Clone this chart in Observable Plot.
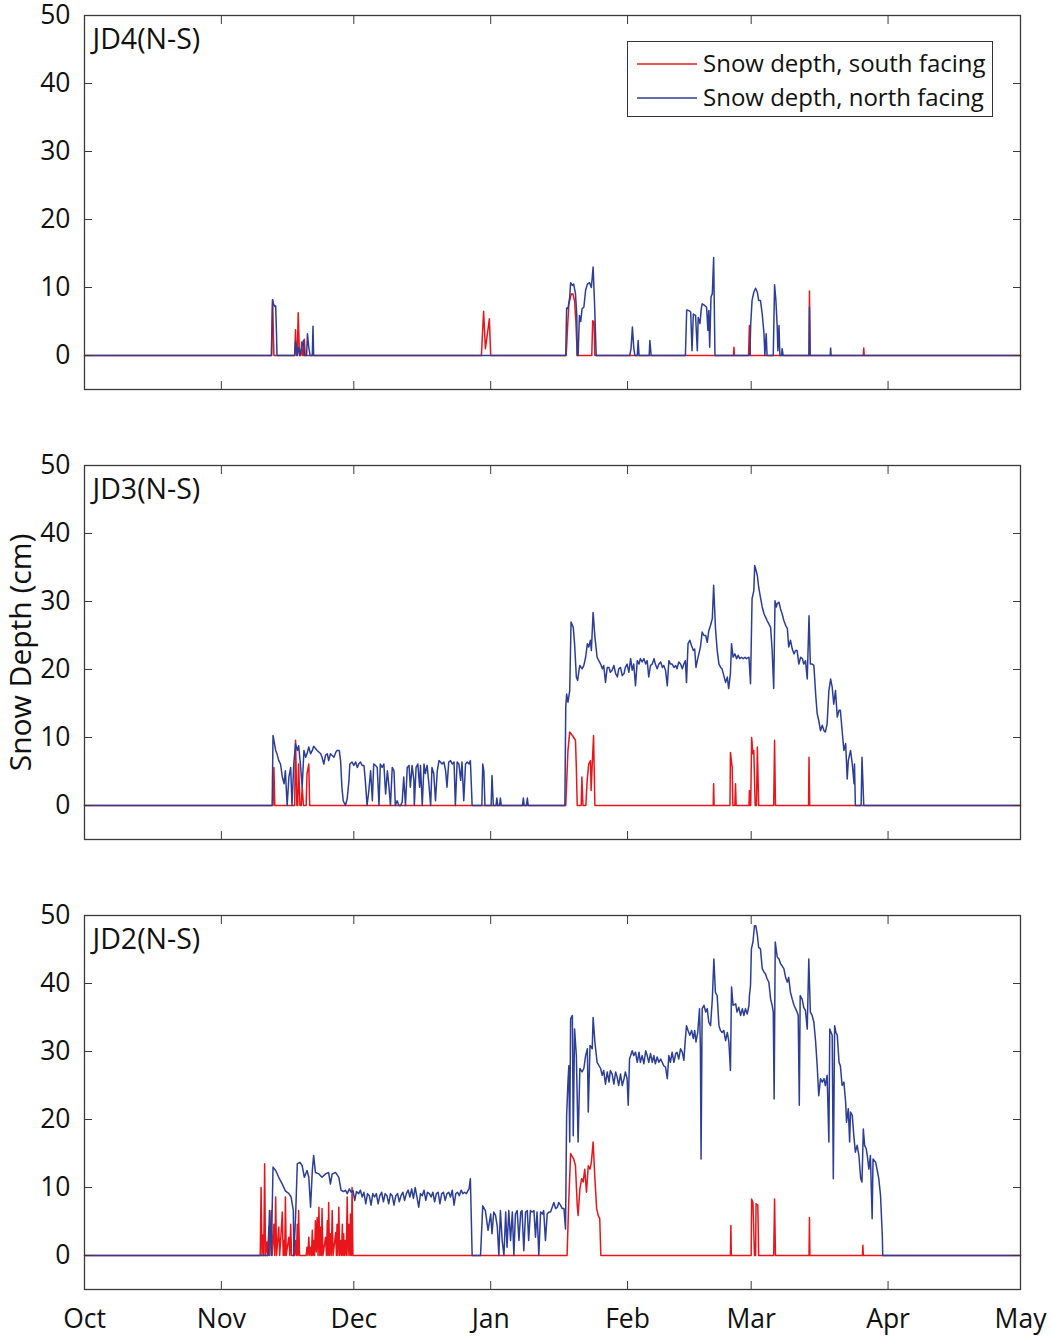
<!DOCTYPE html>
<html><head><meta charset="utf-8">
<script src="https://cdn.jsdelivr.net/npm/d3@7"></script>
<script src="https://cdn.jsdelivr.net/npm/@observablehq/plot@0.6"></script>
<style>
body{margin:0;background:#fff;font-family:"Open Sans",sans-serif;}
#wrap{position:relative;width:1052px;height:1339px;background:#fff;}
.panel{position:absolute;left:0;}
#legend{position:absolute;left:627px;top:41px;width:364px;height:74px;border:1.3px solid #333;background:#fff;font-size:24px;color:#111;}
#legend .row{position:absolute;left:0;height:30px;width:100%;}
#legend svg{position:absolute;left:9px;top:14px;}
#legend span{position:absolute;left:75px;top:-2px;white-space:nowrap;line-height:34px;}
</style></head><body>
<div id="wrap"></div>
<script>
// ---- data (day = days since 1 Oct, depth in cm) ----
const months = ["Oct","Nov","Dec","Jan","Feb","Mar","Apr","May"];
const monthStarts = ["2014-10-01","2014-11-01","2014-12-01","2015-01-01","2015-02-01","2015-03-01","2015-04-01","2015-05-01"];
const yTicks = [0,10,20,30,40,50];
const panelNames = ["JD4(N-S)","JD3(N-S)","JD2(N-S)"];
const seriesNames = ["Snow depth, south facing","Snow depth, north facing"];
const seriesColors = ["#e8161b","#2c3e98"];

const jd4South = [[0,0],[42.3,0],[42.6,8.2],[42.9,0],[47.6,0],[47.8,3.8],[48.0,0],[48.2,0],[48.4,6.3],[48.7,0],[49.0,0],[49.2,2.0],[49.4,0],[49.6,0],[49.8,2.4],[50.0,0],[89.9,0],[90.1,2.7],[90.4,6.5],[90.8,1.0],[91.3,3.4],[91.7,5.4],[92.0,0],[109.1,0],[109.4,4.0],[109.7,7.5],[110.2,9.0],[110.6,9.1],[111.0,8.0],[111.3,5.0],[111.6,0],[114.9,0],[115.1,5.1],[115.4,5.0],[115.6,0],[147.0,0],[147.1,1.2],[147.2,0],[150.4,0],[150.6,4.4],[150.8,0],[164.1,0],[164.2,9.5],[164.35,0],[176.4,0],[176.5,1.1],[176.6,0],[212,0]];

const jd4North = [[0,0],[42.4,0],[42.6,8.2],[42.8,7.6],[43.1,7.2],[43.3,7.3],[43.5,3],[43.6,0],[47.6,0],[47.8,2.1],[48.0,1.2],[48.2,0],[48.5,1.2],[48.8,0],[49.2,1.2],[49.6,2.2],[49.8,0],[50.3,0],[50.5,3.2],[50.8,1.2],[51.1,0],[51.6,0],[51.75,4.3],[51.9,0],[109.0,0],[109.2,7.0],[109.5,6.9],[109.9,8.6],[110.1,10.7],[110.5,10.3],[110.8,10.5],[111.2,9.1],[111.5,6],[111.6,0],[111.8,0],[112.1,5.9],[112.4,5.0],[112.7,6.9],[113.1,7.1],[113.5,9.6],[113.9,10.5],[114.4,10.7],[114.8,10.0],[115.2,13.0],[115.5,8.1],[115.9,0],[123.5,0],[123.8,1.1],[124.1,4.2],[124.4,1.2],[124.65,0],[125.2,0],[125.4,2.2],[125.6,0],[127.9,0],[128.05,2.2],[128.35,0],[136.1,0],[136.4,6.7],[136.9,6.6],[137.3,6.4],[137.6,0.7],[137.9,6.1],[138.4,5.9],[138.8,0.7],[139.0,5.6],[139.4,4.7],[139.7,6.9],[139.9,7.6],[140.4,7.4],[140.9,7.1],[141.2,3.7],[141.4,6.6],[141.6,1.2],[141.9,8.6],[142.2,9.1],[142.5,14.4],[142.8,0],[150.7,0],[150.9,4.7],[151.2,8.1],[151.6,9.3],[152.0,9.9],[152.4,9.3],[152.7,8.1],[153.1,8.1],[153.5,6.1],[153.9,3.2],[154.1,0],[154.4,3.2],[154.6,0],[156.0,0],[156.3,10.4],[156.6,8.1],[156.9,4.2],[157.05,0.7],[157.3,4.4],[157.5,0],[157.9,0],[158.0,1.0],[158.25,0],[164.1,0],[164.2,7.1],[164.35,0],[168.9,0],[169.0,1.1],[169.1,0],[212,0]];

const jd3South = [[0,0],[42.7,0],[42.9,5.6],[43.1,0],[47.6,0],[47.8,9.6],[48.1,0],[48.3,0],[48.5,6.1],[48.8,0],[49.1,0],[49.3,2.7],[49.6,0],[50.2,0],[50.4,4.7],[50.8,6.1],[51.0,0],[109.0,0],[109.5,8.1],[109.9,10.8],[110.5,10.3],[110.8,10.0],[111.2,9.6],[111.4,5.6],[111.6,0],[112.5,0],[112.65,4.2],[112.9,0],[113.55,0],[113.85,3.7],[114.2,6.1],[114.6,6.6],[114.75,2.2],[115.0,6.1],[115.3,10.3],[115.6,0],[142.4,0],[142.5,3.2],[142.6,0],[146.2,0],[146.3,7.8],[146.7,5.6],[146.85,0],[147.3,0],[147.45,3.2],[147.6,0],[150.5,0],[150.6,2.2],[150.7,0],[150.9,0],[151.1,10.0],[151.4,7.6],[151.6,8.1],[151.9,0],[152.2,0],[152.4,8.6],[152.7,0],[156.1,0],[156.3,9.6],[156.5,0],[164.0,0],[164.1,7.1],[164.25,0],[212,0]];

const jd3North = [[0,0],[42.5,0],[42.7,10.3],[43.3,8.1],[43.6,7.6],[44.0,6.6],[44.4,6.1],[44.8,4.2],[45.2,3.2],[45.5,5.1],[45.9,0],[46.3,4.2],[46.7,5.6],[47.0,0],[47.4,6.1],[47.8,9.1],[48.2,8.1],[48.5,8.8],[48.9,6.1],[49.3,2.7],[49.7,8.1],[50.1,7.1],[50.4,7.6],[50.8,8.6],[51.2,7.6],[51.6,8.1],[51.9,8.7],[52.7,8.1],[53.5,7.6],[53.8,7.1],[54.2,6.1],[54.6,7.4],[55.0,7.6],[55.3,6.6],[55.7,7.6],[56.5,7.1],[56.9,7.8],[57.2,8.1],[57.7,8.1],[58.0,6.6],[58.3,2.7],[58.6,0.7],[59.1,0],[59.5,1.0],[59.9,3.7],[60.1,6.1],[60.6,6.4],[61.0,5.9],[61.4,6.4],[61.8,5.6],[62.1,6.1],[62.5,6.4],[62.9,5.9],[63.3,5.9],[63.6,3.7],[64.0,0],[64.4,2.2],[64.8,5.1],[65.2,0.7],[65.5,6.1],[65.9,5.9],[66.3,5.6],[66.7,0],[67.0,6.1],[67.4,5.6],[67.8,6.1],[68.2,1.7],[68.6,5.1],[68.9,3.2],[69.3,0],[69.7,5.6],[70.1,5.1],[70.4,0],[70.8,0.7],[71.2,0],[71.6,0],[71.95,0.5],[72.3,4.2],[72.7,0],[73.1,5.6],[73.5,5.9],[73.8,2.7],[74.2,5.9],[74.6,3.7],[74.7,0],[75.1,5.6],[75.5,6.1],[75.9,2.7],[76.1,5.9],[76.5,0],[76.9,6.1],[77.2,4.7],[77.6,5.9],[78.0,3.2],[78.4,0],[78.7,5.6],[79.1,4.7],[79.5,0.7],[79.9,5.1],[80.3,6.6],[80.6,6.4],[81.0,6.1],[81.4,6.4],[81.8,5.1],[82.1,2.7],[82.5,6.4],[82.9,6.6],[83.3,6.1],[83.7,6.4],[84.0,0],[84.4,6.4],[84.8,6.1],[85.2,3.7],[85.5,6.4],[85.9,0.7],[86.3,6.1],[86.7,6.4],[87.1,6.1],[87.4,6.6],[87.8,0],[90.0,0],[90.2,6.1],[90.45,5.1],[90.7,0],[92.1,0],[92.3,4.4],[92.6,0],[93.2,0],[93.4,1.1],[93.6,0],[94.0,0],[94.2,1.1],[94.4,0],[99.2,0],[99.4,1.1],[99.6,0],[100.1,0],[100.3,1.1],[100.5,0],[108.8,0],[109.0,14.5],[109.2,16.4],[109.5,15.2],[109.9,16.9],[110.2,27.0],[110.5,26.5],[110.7,26.2],[111.0,23.8],[111.4,18.9],[111.7,18.4],[112.0,19.9],[112.2,20.6],[112.7,20.1],[113.1,20.6],[113.5,21.8],[113.9,23.8],[114.2,23.3],[114.6,24.3],[114.8,22.8],[115.2,28.4],[115.6,24.8],[116.1,21.8],[116.9,20.8],[117.3,20.1],[117.6,20.6],[118.0,18.1],[118.4,20.3],[118.8,20.3],[119.1,19.6],[119.5,19.9],[119.9,20.6],[120.3,19.4],[120.7,18.9],[121.0,20.1],[121.4,20.3],[121.8,19.1],[122.2,19.4],[122.5,20.3],[122.9,20.8],[123.3,19.6],[123.7,21.6],[124.05,19.9],[124.4,20.8],[124.8,17.6],[125.2,21.3],[125.6,20.8],[125.9,21.6],[126.3,21.1],[126.7,21.6],[127.1,20.8],[127.45,21.3],[127.8,18.9],[128.2,20.6],[128.6,20.8],[129.0,21.6],[129.3,20.8],[129.7,20.1],[130.1,20.8],[130.5,21.1],[130.9,20.3],[131.2,20.6],[131.6,19.9],[132.0,17.6],[132.35,21.3],[132.7,20.8],[133.1,20.8],[133.5,20.3],[133.9,20.6],[134.2,20.1],[134.6,21.1],[135.0,20.8],[135.4,20.1],[135.75,20.8],[136.1,21.3],[136.35,18.1],[136.7,23.8],[137.1,24.3],[137.5,23.5],[137.9,22.8],[138.2,23.0],[138.5,20.3],[138.8,21.3],[139.15,22.3],[139.5,23.3],[139.9,25.5],[140.3,25.0],[140.7,25.0],[141.05,24.0],[141.4,25.7],[141.8,26.5],[142.2,27.5],[142.5,32.4],[142.9,26.2],[143.3,22.8],[143.7,20.8],[144.1,20.3],[144.4,20.1],[144.8,19.1],[145.2,18.1],[145.6,18.9],[145.9,17.2],[146.3,19.4],[146.55,23.8],[146.9,21.8],[147.3,22.3],[147.7,21.6],[148.05,22.1],[148.4,21.6],[148.8,21.8],[149.2,21.6],[149.6,21.8],[149.9,21.6],[150.5,21.8],[150.85,17.9],[151.2,30.4],[151.6,31.6],[151.8,35.3],[152.1,34.6],[152.4,33.8],[152.7,32.1],[153.1,30.6],[153.5,29.2],[153.9,28.2],[154.25,27.7],[154.6,27.2],[155.0,26.7],[155.4,26.2],[155.75,22.8],[156.1,17.2],[156.4,30.1],[156.7,29.2],[156.9,29.7],[157.3,29.9],[157.65,28.9],[158.0,28.2],[158.4,27.2],[158.8,26.5],[159.2,26.0],[159.5,23.3],[159.9,24.3],[160.3,23.0],[160.7,22.3],[161.05,22.8],[161.4,22.8],[161.8,20.8],[162.2,21.8],[162.6,21.6],[162.9,20.8],[163.3,21.3],[163.7,18.6],[164.1,27.9],[164.4,20.8],[164.8,20.8],[165.2,20.6],[165.6,16.4],[165.95,13.5],[166.3,12.5],[166.7,11.0],[167.1,11.8],[167.5,11.0],[167.8,10.8],[168.2,12.0],[168.6,16.9],[169.0,18.6],[169.35,17.4],[169.7,14.9],[170.1,16.9],[170.5,13.0],[170.9,14.0],[171.2,14.0],[171.6,11.0],[172.0,8.1],[172.4,9.1],[172.75,3.9],[173.0,6.6],[173.5,8.1],[173.9,6.1],[174.3,3.2],[174.4,6.1],[174.6,0],[175.9,0],[176.1,7.1],[176.5,0],[212,0]];

const jd2South = [[0,0],[39.8,0],[40.0,10.0],[40.2,0],[40.4,3.0],[40.6,0],[40.8,13.5],[41.0,0],[41.3,2.0],[41.5,0],[41.75,4.2],[41.9,0],[42.1,3.0],[42.3,6.6],[42.5,0],[42.7,2.0],[42.9,4.6],[43.1,0],[43.3,8.6],[43.5,0],[43.8,2.5],[44.0,4.2],[44.2,0],[44.5,3.0],[44.8,6.4],[45.0,0],[45.2,2.2],[45.35,0],[45.5,8.6],[45.7,0],[46.0,1.5],[46.3,2.7],[46.5,0],[46.7,4.6],[46.9,0],[47.6,0],[47.8,2.2],[48.0,0],[48.2,4.6],[48.35,0],[48.5,6.6],[48.7,0],[50.2,0],[50.4,1.2],[50.6,0],[50.8,2.7],[51.0,0],[51.2,1.2],[51.4,0],[51.6,3.7],[51.75,0],[51.9,2.2],[52.1,0],[52.3,5.1],[52.5,0.5],[52.7,5.6],[52.9,0],[53.1,7.1],[53.3,0],[53.5,4.2],[53.65,0],[53.8,6.9],[54.0,0],[54.6,2.7],[54.8,0],[55.0,5.1],[55.15,0],[55.3,7.8],[55.5,0],[55.7,3.2],[55.9,0],[56.1,6.6],[56.3,0],[56.9,3.4],[57.05,0],[57.2,4.6],[57.4,0],[57.6,7.1],[57.8,0],[58.0,2.2],[58.2,0],[58.4,4.6],[58.55,0],[58.7,3.2],[58.9,0],[59.1,2.2],[59.3,0],[59.5,8.6],[59.7,0],[59.9,4.6],[60.1,0],[60.25,6.1],[60.45,0],[60.6,10.0],[60.8,0],[109.3,0],[109.7,8.3],[110.1,15.0],[110.5,14.5],[110.8,14.2],[111.2,13.2],[111.6,7.4],[111.8,5.9],[112.2,9.8],[112.6,11.3],[112.95,10.8],[113.3,12.7],[113.7,9.3],[114.1,13.2],[114.5,12.7],[114.8,13.7],[115.2,16.7],[115.6,11.3],[116.0,6.9],[116.35,5.9],[116.7,5.4],[116.95,0],[146.3,0],[146.4,4.4],[146.5,0],[151.0,0],[151.1,8.3],[151.4,7.8],[151.75,0],[152.0,0],[152.1,7.6],[152.5,7.4],[152.7,0],[156.1,0],[156.3,8.3],[156.5,0],[164.1,0],[164.2,5.6],[164.3,0],[176.2,0],[176.3,1.5],[176.4,0],[212,0]];

const jd2North = [[0,0],[41.6,0],[41.9,6.6],[42.3,0],[42.7,13.0],[43.3,12.5],[44.0,11.5],[44.8,10.5],[45.5,9.5],[46.3,9.1],[46.8,8.6],[47.3,6.6],[47.4,0],[47.8,5.6],[48.2,13.5],[48.8,13.7],[49.3,13.2],[49.8,11.5],[50.4,12.5],[50.8,11.5],[51.2,7.1],[51.6,12.5],[51.9,14.7],[52.3,12.2],[53.1,12.0],[53.8,11.5],[54.6,12.0],[55.3,12.2],[55.7,10.5],[56.1,12.0],[56.9,12.2],[57.6,11.5],[58.1,9.6],[58.7,9.4],[59.1,9.6],[59.5,9.1],[60.0,9.8],[60.4,9.3],[60.8,9.6],[61.2,8.1],[61.6,9.4],[62.1,9.1],[62.5,9.6],[62.9,8.6],[63.3,9.3],[63.7,7.6],[64.1,9.1],[64.5,8.8],[64.9,7.4],[65.3,9.1],[65.7,8.6],[66.1,9.1],[66.5,7.6],[66.9,8.8],[67.3,9.3],[67.7,7.9],[68.1,9.1],[68.5,8.8],[68.9,7.6],[69.3,9.1],[69.7,8.8],[70.1,7.4],[70.5,8.8],[70.9,9.1],[71.3,7.9],[71.7,8.8],[72.1,9.3],[72.5,8.1],[72.9,9.1],[73.3,9.6],[73.7,8.6],[74.1,9.8],[74.5,8.4],[74.9,10.0],[75.3,8.6],[75.7,7.1],[76.1,9.1],[76.5,8.8],[76.9,9.6],[77.3,8.1],[77.7,9.3],[78.1,9.1],[78.5,8.6],[78.9,9.3],[79.3,7.9],[79.7,9.1],[80.1,9.3],[80.5,7.6],[80.9,9.1],[81.3,9.3],[81.7,8.1],[82.1,9.1],[82.5,9.3],[82.9,8.6],[83.3,9.6],[83.7,7.4],[84.1,9.1],[84.5,9.3],[84.9,8.8],[85.3,9.6],[85.7,9.1],[86.1,9.3],[86.5,9.1],[86.9,9.6],[87.1,9.8],[87.4,11.3],[87.8,0],[89.7,0],[90.2,7.3],[90.8,6.6],[91.4,3.7],[92.0,6.1],[92.3,3.2],[92.7,6.4],[93.1,5.9],[93.5,4.2],[93.85,0],[94.2,6.6],[94.6,2.2],[95.0,0],[95.4,6.4],[95.7,1.2],[96.1,6.6],[96.5,2.2],[96.9,6.4],[97.25,0],[97.6,6.1],[98.0,6.6],[98.4,2.2],[98.8,6.4],[99.1,6.6],[99.5,0.7],[99.9,6.4],[100.3,6.6],[100.6,2.2],[101.0,6.6],[101.4,6.4],[101.8,6.6],[102.15,2.7],[102.5,6.4],[102.9,0],[103.3,6.4],[103.7,6.1],[104.0,6.6],[104.4,2.2],[104.8,6.1],[105.2,6.4],[105.55,6.4],[106.3,7.8],[106.7,6.9],[107.1,7.1],[107.4,7.8],[107.8,7.4],[108.2,6.9],[108.6,6.9],[108.95,3.9],[109.2,20.6],[109.5,25.5],[109.7,27.9],[109.9,16.7],[110.1,34.8],[110.5,35.3],[110.7,17.6],[111.0,33.3],[111.4,29.4],[111.8,16.7],[112.2,27.5],[112.7,27.0],[113.1,27.5],[113.5,29.4],[113.9,30.4],[114.1,21.1],[114.5,30.9],[115.0,30.4],[115.2,35.0],[115.6,31.4],[116.1,28.4],[116.9,27.5],[117.25,26.5],[117.6,27.2],[118.0,25.2],[118.4,27.0],[118.8,25.5],[119.1,27.2],[119.5,26.7],[119.9,25.2],[120.3,27.0],[120.65,26.2],[121.0,25.0],[121.4,26.7],[121.8,25.0],[122.2,26.0],[122.5,27.0],[122.9,26.0],[123.15,22.1],[123.45,28.9],[124.05,30.1],[124.4,29.4],[124.8,29.9],[125.2,28.4],[125.6,29.9],[125.9,28.4],[126.3,29.4],[126.7,28.2],[127.1,30.1],[127.45,29.4],[127.8,28.4],[128.2,29.7],[128.6,28.4],[128.95,29.4],[129.3,28.2],[129.7,29.2],[130.1,28.4],[130.5,28.9],[130.85,28.4],[131.2,27.9],[131.6,27.7],[132.0,26.0],[132.35,29.4],[132.7,28.4],[133.1,29.9],[133.5,28.4],[133.9,29.7],[134.2,29.9],[134.6,28.9],[135.0,30.4],[135.4,29.9],[135.75,28.7],[136.1,31.9],[136.35,33.8],[136.7,33.1],[137.1,32.4],[137.5,33.1],[137.9,31.9],[138.2,33.1],[138.5,31.4],[138.9,32.8],[139.3,36.3],[139.5,30.4],[139.65,14.2],[139.9,36.3],[140.3,36.8],[140.7,35.8],[141.05,36.3],[141.4,34.3],[141.8,33.8],[142.2,37.7],[142.55,43.6],[142.9,38.7],[143.3,38.2],[143.7,33.8],[144.05,33.1],[144.4,32.8],[144.8,33.1],[145.2,31.6],[145.6,32.8],[145.95,31.4],[146.3,27.2],[146.55,39.5],[146.9,36.8],[147.5,37.0],[147.8,35.8],[148.2,36.5],[148.6,35.3],[149.0,36.3],[149.35,35.3],[149.7,36.3],[150.1,35.5],[150.5,36.8],[150.6,38.2],[150.85,39.7],[151.05,45.1],[151.4,46.1],[151.75,48.5],[152.05,48.5],[152.4,47.1],[152.7,45.3],[153.1,45.1],[153.5,42.2],[153.9,41.7],[154.25,41.4],[154.6,40.7],[155.0,40.2],[155.4,37.7],[155.75,36.8],[156.0,35.8],[156.2,23.0],[156.45,46.1],[156.9,43.9],[157.3,43.6],[157.65,42.9],[158.0,42.6],[158.4,42.2],[158.8,40.9],[159.2,40.2],[159.5,40.9],[159.9,38.7],[160.3,37.7],[160.7,36.8],[161.05,36.3],[161.4,35.8],[161.65,35.3],[161.9,22.1],[162.1,38.2],[162.55,37.7],[162.9,36.5],[163.3,36.0],[163.7,33.3],[164.05,43.6],[164.4,35.8],[164.8,35.3],[165.2,34.3],[165.6,31.4],[165.95,27.9],[166.3,23.5],[166.7,26.0],[167.1,25.5],[167.5,26.0],[167.8,25.0],[168.2,26.5],[168.6,16.7],[168.8,33.3],[169.1,32.8],[169.35,32.4],[169.6,11.3],[169.9,33.8],[170.2,32.8],[170.5,32.4],[170.9,28.4],[171.2,27.9],[171.6,25.0],[172.0,25.5],[172.4,22.5],[172.6,19.6],[173.0,21.6],[173.3,16.7],[173.5,21.1],[173.9,20.6],[174.25,17.6],[174.6,15.2],[175.0,16.2],[175.4,14.7],[175.8,11.3],[176.1,10.8],[176.4,18.6],[176.7,16.2],[177.05,15.7],[177.3,14.7],[177.65,12.7],[178.0,14.7],[178.4,5.4],[178.6,14.2],[179.2,13.7],[179.5,12.7],[179.9,11.3],[180.3,8.8],[180.7,2.9],[180.8,0],[212,0]];

// ---- drawing ----
const t0 = Date.UTC(2014, 9, 1);
const toDate = d => new Date(t0 + d * 864e5);
const monthDates = monthStarts.map(s => new Date(s));
const monthLabel = d => months[monthDates.findIndex(m => +m === +d)];
const AXIS = "#3a3a3a";
const FONT = "Open Sans";
const TICKFONT = 26.5;

const panels = [
  {name: panelNames[0], south: jd4South, north: jd4North},
  {name: panelNames[1], south: jd3South, north: jd3North},
  {name: panelNames[2], south: jd2South, north: jd2North}
];

const wrap = document.getElementById("wrap");
panels.forEach((p, i) => {
  const last = i === 2;
  const h = last ? 439 : 450;
  const mt = 15, frameH = 374;
  const chart = Plot.plot({
    width: 1052, height: h,
    marginLeft: 84, marginRight: 32, marginTop: mt, marginBottom: h - mt - frameH,
    style: {fontFamily: FONT, fontSize: TICKFONT + "px", color: "#111", background: "transparent", overflow: "visible"},
    x: {type: "utc", domain: [monthDates[0], monthDates[monthDates.length - 1]]},
    y: {domain: [-5, 50]},
    marks: [
      Plot.line(p.south, {x: d => toDate(d[0]), y: d => d[1], stroke: seriesColors[0], strokeWidth: 1.5}),
      Plot.line(p.north, {x: d => toDate(d[0]), y: d => d[1], stroke: seriesColors[1], strokeWidth: 1.5}),
      Plot.frame({stroke: AXIS, strokeWidth: 1.3}),
      Plot.axisY({anchor: "left", ticks: yTicks, tickSize: -8, tickPadding: 22, stroke: AXIS, fill: "#111", fontSize: TICKFONT, label: null}),
      Plot.axisY({anchor: "right", ticks: yTicks, tickSize: -8, tickFormat: () => "", stroke: AXIS, label: null}),
      Plot.axisX({anchor: "bottom", ticks: monthDates, tickSize: -8, tickPadding: 28, stroke: AXIS, fill: "#111", fontSize: TICKFONT,
                  tickFormat: last ? monthLabel : () => "", label: null}),
      Plot.axisX({anchor: "top", ticks: monthDates, tickSize: -8, tickFormat: () => "", stroke: AXIS, label: null}),
      Plot.text([p.name], {frameAnchor: "top-left", dx: 8, dy: 13, text: d => d, textAnchor: "start", lineAnchor: "top", fontSize: 28.5, fill: "#111"}),
      ...(i === 1 ? [Plot.text(["Snow Depth (cm)"], {frameAnchor: "left", dx: -63, rotate: -90, text: d => d, fontSize: 30, textAnchor: "middle", lineAnchor: "middle", fill: "#111"})] : [])
    ]
  });
  chart.classList.add("panel");
  chart.style.top = (i * 450) + "px";
  wrap.appendChild(chart);
});

// legend
const legend = document.createElement("div");
legend.id = "legend";
seriesNames.forEach((name, k) => {
  const row = document.createElement("div");
  row.className = "row";
  row.style.top = (k === 0 ? 6 : 40) + "px";
  row.innerHTML = `<svg width="60" height="4"><line x1="0" x2="60" y1="2" y2="2" stroke="${seriesColors[k]}" stroke-width="1.3"/></svg><span>${name}</span>`;
  legend.appendChild(row);
});
wrap.appendChild(legend);
</script>
</body></html>
